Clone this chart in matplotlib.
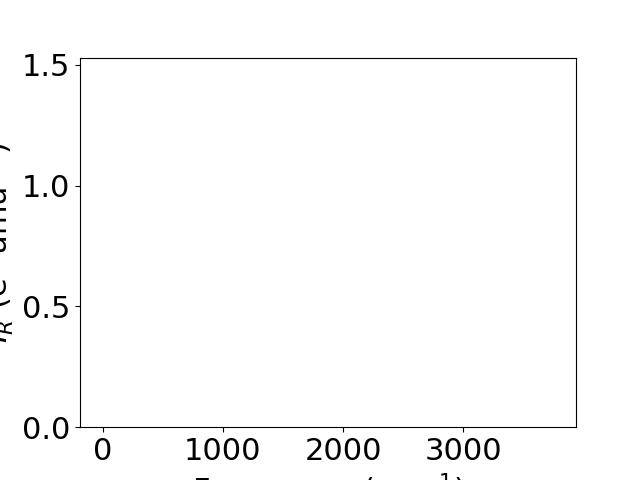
import matplotlib
matplotlib.use("Agg")
import matplotlib.pyplot as plt

# empty spectrum panel: no data, only the frame
freq = []
intensity = []

x_ticks = [0, 1000, 2000, 3000]
y_ticks = [0.0, 0.5, 1.0, 1.5]

plt.rcParams['font.size'] = 22

fig, ax = plt.subplots(figsize=(6.4, 4.8), dpi=100)
ax.plot(freq, intensity)
ax.set_xlim(-190, 3940)
ax.set_ylim(0, 1.53)
ax.set_xticks(x_ticks)
ax.set_yticks(y_ticks)
ax.set_xlabel(r'Frequency (cm$^{-1}$)')
ax.set_ylabel(r'$I_R$ (e$^2$ amu$^{-1}$)')

fig.savefig('out.png', dpi=100)
